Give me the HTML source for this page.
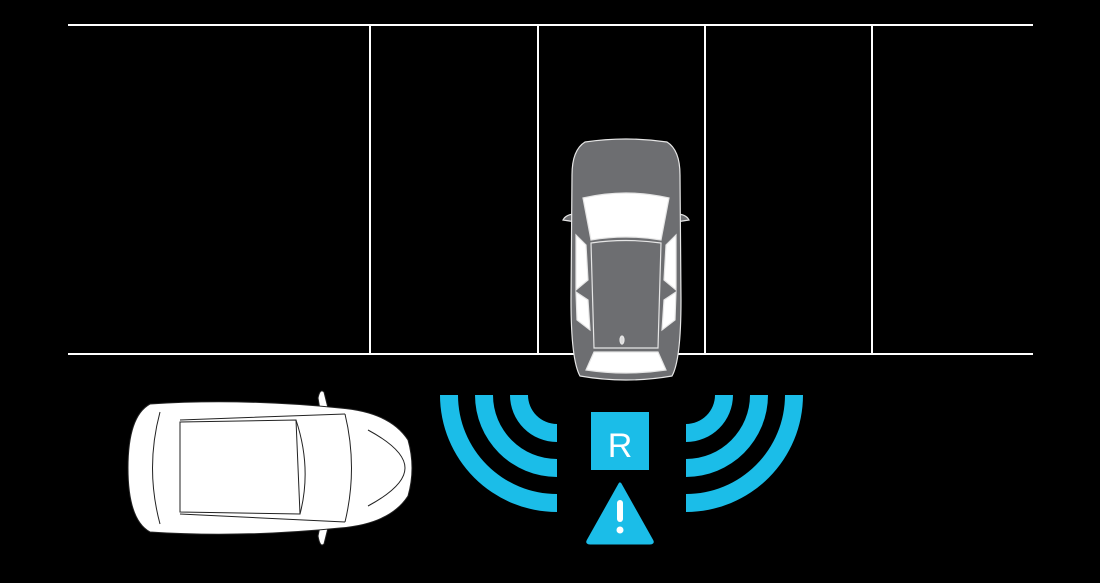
<!DOCTYPE html>
<html><head><style>html,body{margin:0;padding:0;background:#000;}svg{display:block}</style></head>
<body>
<svg width="1100" height="583" viewBox="0 0 1100 583" xmlns="http://www.w3.org/2000/svg">
<rect width="1100" height="583" fill="#000"/>
<g stroke="#fff" stroke-width="2">
<line x1="68" y1="25" x2="1033" y2="25"/>
<line x1="68" y1="354" x2="1033" y2="354"/>
<line x1="370" y1="25" x2="370" y2="354"/>
<line x1="538" y1="25" x2="538" y2="354"/>
<line x1="705" y1="25" x2="705" y2="354"/>
<line x1="872" y1="25" x2="872" y2="354"/>
</g>
<!-- gray car -->
<g stroke="#e6e6e6" stroke-width="1.2">
<path d="M563 220 Q566 214 576 214 L576 222 Z" fill="#6d6e71"/>
<path d="M689 220 Q686 214 676 214 L676 222 Z" fill="#6d6e71"/>
<path d="M585 142 Q626 136 667 142 Q680 150 680 175 L681 300 Q681 360 672 376 Q626 384 580 376 Q571 360 571 300 L572 175 Q572 150 585 142 Z" fill="#6d6e71"/>
<path d="M583 198 Q626 188 669 198 L661 240 Q626 234 591 240 Z" fill="#fff"/>
<path d="M591 243 Q626 238 661 243 L658 348 L594 348 Z" fill="#6d6e71"/>
<path d="M576 235 L586 245 L588 280 L576 290 Z" fill="#fff"/>
<path d="M676 235 L666 245 L664 280 L676 290 Z" fill="#fff"/>
<path d="M576 292 L588 300 L590 330 L577 320 Z" fill="#fff"/>
<path d="M676 292 L664 300 L662 330 L675 320 Z" fill="#fff"/>
<path d="M594 352 L658 352 L666 370 Q626 376 586 370 Z" fill="#fff"/>
<ellipse cx="622" cy="340" rx="2" ry="4" fill="#ddd"/>
</g>
<!-- white car -->
<g stroke="#222" stroke-width="1" fill="#fff">
<path d="M318 398 Q320 388 324 392 L328 408 L320 410 Z"/>
<path d="M318 536 Q320 548 324 544 L328 528 L320 526 Z"/>
<path d="M150 404 Q240 398 340 408 Q390 412 408 440 Q416 468 408 496 Q390 524 340 528 Q240 538 150 532 Q128 520 128 468 Q128 416 150 404 Z"/>
<path d="M180 422 L296 420 L300 514 L180 512 Z" fill="none"/>
<path d="M296 420 Q312 468 300 514" fill="none"/>
<path d="M345 414 Q358 468 345 522" fill="none"/>
<path d="M368 430 Q405 450 405 468 Q405 486 368 506" fill="none"/>
<path d="M160 412 Q145 468 160 524" fill="none"/>
<path d="M180 420 L345 414 M180 514 L345 522" fill="none"/>
</g>
<!-- sensor arcs -->
<g fill="#1bbde8">
<path d="M440 395 A117 117 0 0 0 557 512 L557 494 A99 99 0 0 1 458 395 Z"/>
<path d="M475 395 A82 82 0 0 0 557 477 L557 459 A64 64 0 0 1 493 395 Z"/>
<path d="M510 395 A47 47 0 0 0 557 442 L557 424 A29 29 0 0 1 528 395 Z"/>
<path d="M803 395 A117 117 0 0 1 686 512 L686 494 A99 99 0 0 0 785 395 Z"/>
<path d="M768 395 A82 82 0 0 1 686 477 L686 459 A64 64 0 0 0 750 395 Z"/>
<path d="M733 395 A47 47 0 0 1 686 442 L686 424 A29 29 0 0 0 715 395 Z"/>
<rect x="591" y="412" width="58" height="58"/>
<path d="M620 484 L652 541 Q653 543 650 543 L590 543 Q587 543 588 541 Z" stroke="#1bbde8" stroke-width="3" stroke-linejoin="round"/>
</g>
<text x="620" y="457" font-family="Liberation Sans, sans-serif" font-size="34" fill="#fff" text-anchor="middle">R</text>
<rect x="617" y="500" width="6" height="22" rx="3" fill="#fff"/>
<circle cx="620" cy="530" r="3.5" fill="#fff"/>
</svg>
</body></html>
